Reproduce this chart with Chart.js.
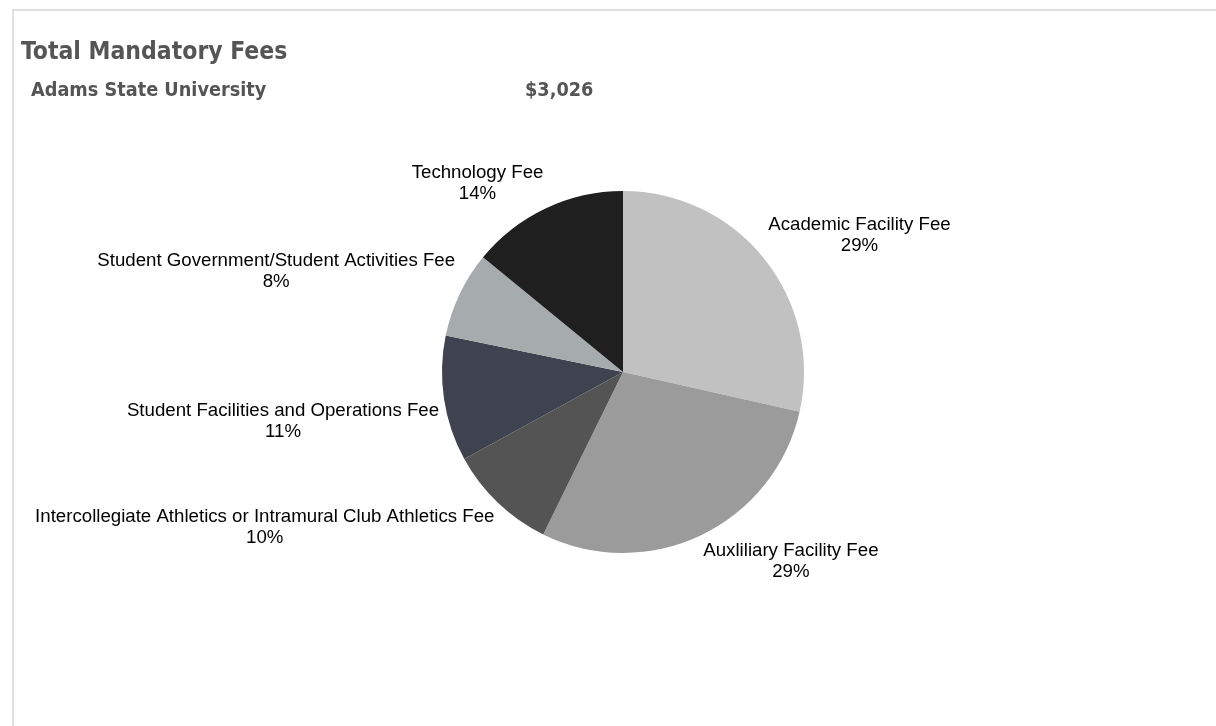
<!DOCTYPE html>
<html lang="en">
<head>
  <meta charset="UTF-8">
  <meta name="viewport" content="width=device-width, initial-scale=1.0">
  <title>Total Mandatory Fees</title>
  <script src="https://cdn.jsdelivr.net/npm/chart.js"></script>
  <style>
    html, body {
      margin: 0;
      padding: 0;
      background: #fff;
      overflow: hidden;
    }
    #frame {
      position: absolute;
      left: 12px;
      top: 9px;
      width: 1300px;
      height: 800px;
      border-top: 2px solid #e0e0e0;
      border-left: 2px solid #e0e0e0;
    }
    .head {
      position: absolute;
      font-family: "DejaVu Sans Condensed", "DejaVu Sans", Verdana, sans-serif;
      font-stretch: condensed;
      font-weight: 700;
      color: #555;
      white-space: nowrap;
    }
    #title {
      left: 21px;
      top: 39px;
      font-size: 24.5px;
      line-height: 24px;
    }
    #subtitle, #total {
      top: 80px;
      font-size: 19.7px;
      line-height: 20px;
    }
    #subtitle { left: 31px; }
    #total { left: 525px; }
    #chart-box {
      position: absolute;
      left: 0;
      top: 0;
      width: 1216px;
      height: 726px;
    }
  </style>
</head>
<body>
  <div id="frame"></div>
  <div id="chart-box">
    <canvas id="pieChart"></canvas>
  </div>
  <div class="head" id="title">Total Mandatory Fees</div>
  <div class="head" id="subtitle">Adams State University</div>
  <div class="head" id="total"></div>

  <script>
    const feeNames = [
      "Academic Facility Fee",
      "Auxliliary Facility Fee",
      "Intercollegiate Athletics or Intramural Club Athletics Fee",
      "Student Facilities and Operations Fee",
      "Student Government/Student Activities Fee",
      "Technology Fee"
    ];
    const feeAmounts = [863, 870, 295, 339, 233, 426];
    const sliceColors = ["#c1c1c1", "#9b9b9b", "#545454", "#3f4350", "#a6abae", "#1f1f1f"];

    const totalFees = feeAmounts.reduce((a, b) => a + b, 0);
    document.getElementById("total").textContent = "$" + totalFees.toLocaleString("en-US");

    // labels outside each slice: name on first line, percent below
    const outsideLabels = {
      id: "outsideLabels",
      afterDatasetsDraw(chart) {
        const ctx = chart.ctx;
        const meta = chart.getDatasetMeta(0);
        const lineH = 21;
        ctx.save();
        ctx.font = "18.67px 'Liberation Sans', Arial, sans-serif";
        ctx.fillStyle = "#000";
        ctx.textAlign = "center";
        ctx.textBaseline = "alphabetic";
        meta.data.forEach((arc, i) => {
          const p = arc.getProps(["x", "y", "startAngle", "endAngle", "outerRadius"], true);
          const mid = (p.startAngle + p.endAngle) / 2;
          const r = p.outerRadius + 5;
          const ax = p.x + Math.cos(mid) * r;
          const ay = p.y + Math.sin(mid) * r;
          const pct = Math.round(feeAmounts[i] / totalFees * 100) + "%";
          const lines = [feeNames[i], pct];
          const w = Math.max(...lines.map(t => ctx.measureText(t).width));
          const h = lineH * 2;
          const left = Math.cos(mid) >= 0 ? ax : ax - w;
          const top = Math.sin(mid) >= 0 ? ay : ay - h;
          lines.forEach((t, j) => {
            ctx.fillText(t, left + w / 2, top + 16 + j * lineH);
          });
        });
        ctx.restore();
      }
    };

    new Chart(document.getElementById("pieChart"), {
      type: "pie",
      data: {
        labels: feeNames,
        datasets: [{
          data: feeAmounts,
          backgroundColor: sliceColors,
          borderWidth: 0
        }]
      },
      options: {
        responsive: true,
        maintainAspectRatio: false,
        animation: false,
        layout: {
          padding: { left: 442, right: 412, top: 191, bottom: 173 }
        },
        plugins: {
          legend: { display: false },
          tooltip: { enabled: false }
        }
      },
      plugins: [outsideLabels]
    });
  </script>
</body>
</html>
